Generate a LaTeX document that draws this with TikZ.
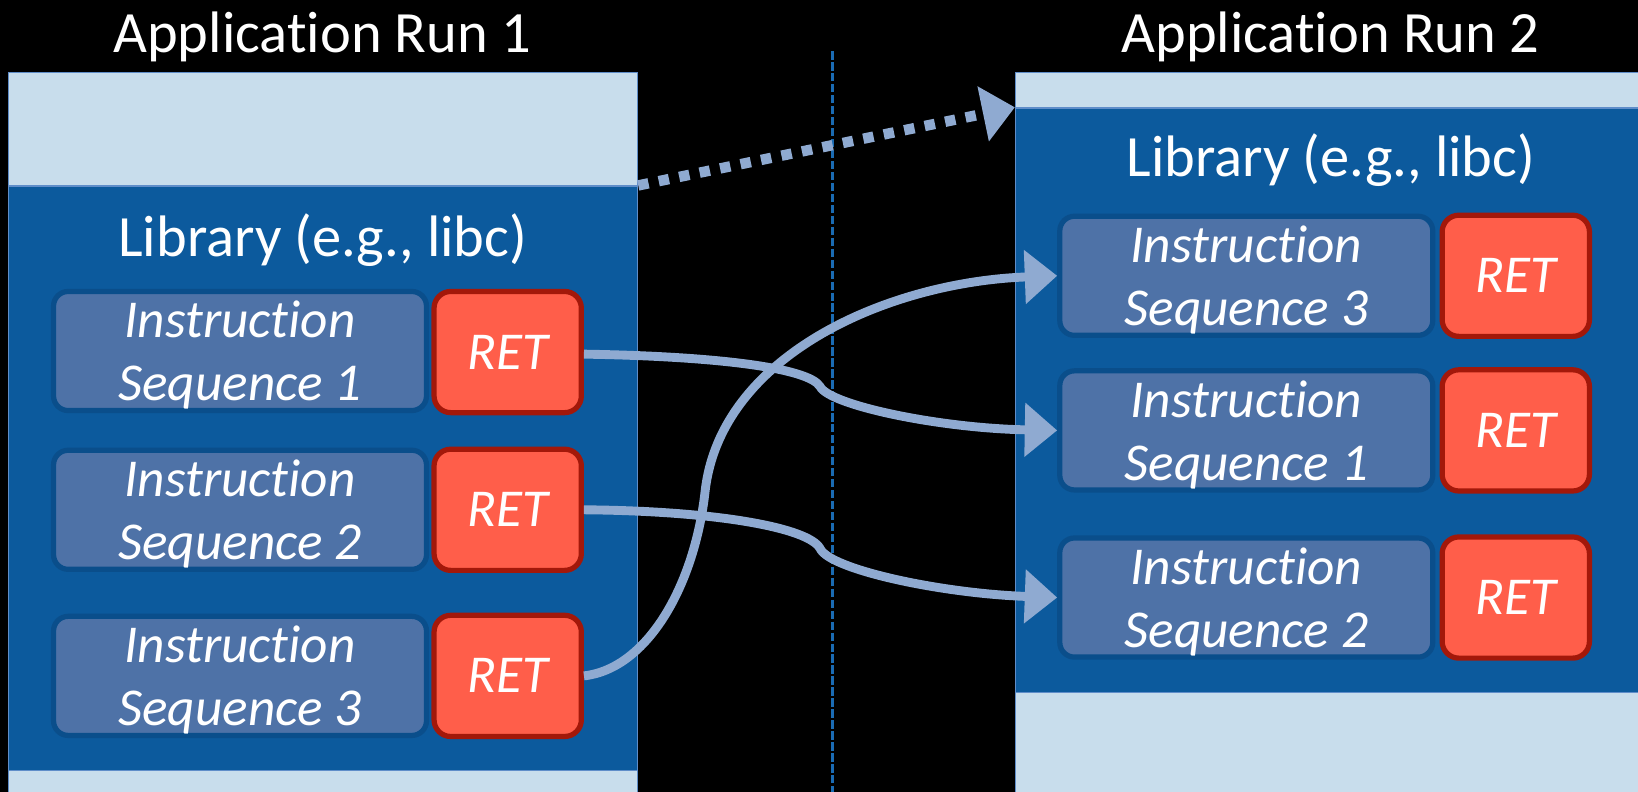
\documentclass[tikz,border=0pt]{standalone}
\usepackage{fontspec}
\setmainfont[Ligatures=NoCommon]{Carlito}
\usetikzlibrary{arrows.meta}
\definecolor{bandc}{HTML}{C8DDEC}
\definecolor{edgec}{HTML}{5F8DC9}
\definecolor{libc}{HTML}{0C5A9D}
\definecolor{instrc}{HTML}{4E72A7}
\definecolor{instrl}{HTML}{0A4E8B}
\definecolor{retc}{HTML}{FF5E4A}
\definecolor{retl}{HTML}{A3180A}
\definecolor{arrc}{HTML}{8FAAD1}
\definecolor{dashc}{HTML}{1A6BB3}
\begin{document}
\begin{tikzpicture}[x=1pt,y=-1pt,
  band/.style={draw=edgec,line width=1.5pt,fill=bandc,anchor=north west,minimum width=602pt,inner sep=0pt},
  libbox/.style={draw=edgec,line width=1.5pt,fill=libc,anchor=north west,minimum width=602pt,inner sep=0pt},
  title/.style={text=white,anchor=base,inner sep=0pt,font=\fontsize{56}{67}\selectfont},
  instr/.style={draw=instrl,line width=5pt,fill=instrc,rounded corners=14pt,minimum width=357pt,minimum height=114pt,text=white,align=center,text depth=0pt,inner sep=0pt,font=\fontsize{51}{60.5}\selectfont\itshape},
  retbox/.style={draw=retl,line width=5pt,fill=retc,rounded corners=16pt,minimum width=141pt,minimum height=116pt,text=white,text depth=0pt,inner sep=0pt,font=\fontsize{51}{60}\selectfont\itshape},
  conn/.style={draw=arrc,line width=8.5pt,-{Triangle[length=31pt,width=50pt]}},
  dotarrow/.style={draw=arrc,line width=10pt,dash pattern=on 10pt off 10pt,-{Triangle[length=31pt,width=52pt]}},
  sepline/.style={draw=dashc,line width=2.5pt,dash pattern=on 8pt off 2.5pt}
]
\useasboundingbox (0,0) rectangle (1568,758);
\clip (0,0) rectangle (1568,758);
\fill[black] (0,0) rectangle (1568,758);

% separator
\coordinate (dtop) at (797,49);
\coordinate (dbot) at (797,760);
\draw[sepline] (dtop) -- (dbot);

% application boxes
\node[band,minimum height=740pt] (app1) at (7.5,68.6) {};
\node[libbox,minimum height=559.5pt] (lib1) at (7.5,177.5) {};
\node[band,minimum height=740pt,minimum width=605pt] (app2) at (971.5,68.6) {};
\node[libbox,minimum height=559.3pt,minimum width=605pt] (lib2) at (971.5,102.7) {};

\node[title] (t1) at (308.5,50) {Application Run 1};
\node[title] (t2) at (1273.5,50) {Application Run 2};
\node[title] (lt1) at (309,245.7) {Library (e.g., libc)};
\node[title] (lt2) at (1274,169) {Library (e.g., libc)};

% left sequences
\node[instr] (ls1) at (229.75,336) {Instruction\\Sequence 1};
\node[retbox] (lr1) at (486,337) {RET};
\node[instr] (ls2) at (229.75,488) {Instruction\\Sequence 2};
\node[retbox] (lr2) at (486,488) {RET};
\node[instr] (ls3) at (229.75,647) {Instruction\\Sequence 3};
\node[retbox] (lr3) at (486,647) {RET};

% right sequences
\node[instr] (rs3) at (1193,264) {Instruction\\Sequence 3};
\node[retbox] (rr3) at (1451,264) {RET};
\node[instr] (rs1) at (1193,412) {Instruction\\Sequence 1};
\node[retbox] (rr1) at (1451,412) {RET};
\node[instr] (rs2) at (1193,572) {Instruction\\Sequence 2};
\node[retbox] (rr2) at (1451,572) {RET};

% connectors
\draw[conn] ([yshift=-2pt]lr1.east) .. controls (685,341) and (774,352) .. (785,370) .. controls (794,388) and (900,410) .. (rs1.west);
\draw[conn] (lr2.east) .. controls (685,489) and (774,505) .. (785,525) .. controls (794,545) and (900,568) .. (rs2.west);
\draw[conn] (lr3.east) .. controls (620,640) and (665,560) .. (675,470) .. controls (690,340) and (850,270) .. (rs3.west);

\draw[dotarrow] (lib1.north east) -- (lib2.north west);
\end{tikzpicture}
\end{document}
